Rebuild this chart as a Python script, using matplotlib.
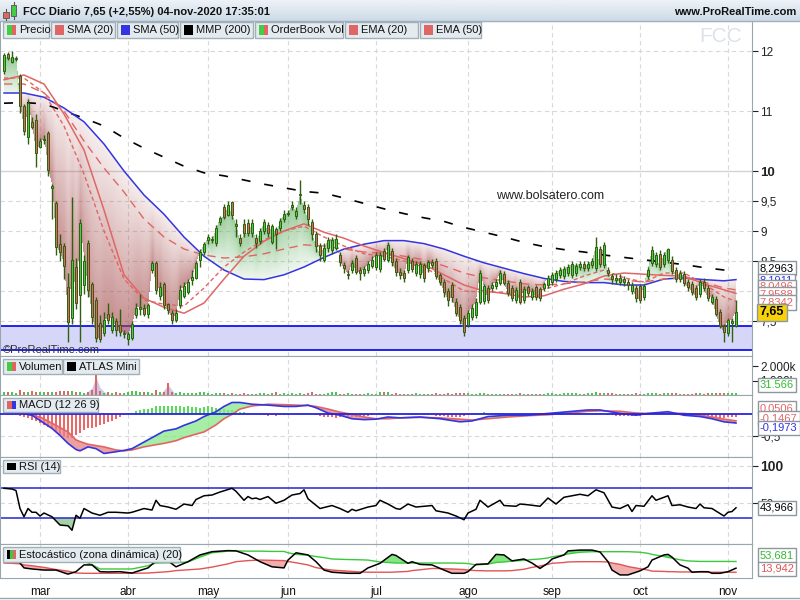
import numpy as np
import matplotlib.pyplot as plt
from matplotlib.patches import Rectangle
from matplotlib.lines import Line2D
from matplotlib.colors import LinearSegmentedColormap

plt.rcParams['font.family'] = ['Liberation Sans', 'DejaVu Sans']

W, H = 800, 600
GREEN = '#44cc44'
RED = '#e0675f'
WICK = '#2f5f10'
LINE_RED = '#e06666'
BLUE = '#3434e0'
GRID = '#d9d9d9'
FRAME = '#9aa6ae'

# ---- data (trading-day index 0 = 18-feb-2020) ----
months = ['mar', 'abr', 'may', 'jun', 'jul', 'ago', 'sep', 'oct', 'nov']
month_start = [9, 31, 51, 71, 93, 116, 137, 159, 181]

opens = [11.67, 11.95, 11.82, 11.87, 11.59, 11.09, 10.57, 10.82, 10.85, 10.40,
         10.52, 10.63, 9.72, 9.47, 8.78, 8.75, 8.07, 7.55, 8.40, 7.93,
         8.10, 8.80, 8.12, 7.85, 7.47, 7.30, 7.62, 7.35, 7.50, 7.43,
         7.28, 7.20, 7.22, 7.60, 7.70, 7.72, 7.62, 8.35, 8.47, 7.92,
         8.12, 7.78, 7.63, 7.52, 7.77, 7.92, 7.98, 8.18, 8.22, 8.52,
         8.65, 8.85, 8.85, 8.80, 9.15, 9.40, 9.27, 9.48, 9.08, 8.88,
         9.12, 9.13, 8.97, 8.88, 8.83, 9.00, 9.10, 8.82, 9.03, 9.05,
         9.20, 9.28, 9.40, 9.25, 9.60, 9.43, 9.40, 9.15, 8.95, 8.75,
         8.52, 8.72, 8.68, 8.72, 8.60, 8.43, 8.27, 8.35, 8.55, 8.35,
         8.30, 8.35, 8.42, 8.40, 8.37, 8.67, 8.52, 8.67, 8.50, 8.32,
         8.30, 8.35, 8.50, 8.30, 8.28, 8.43, 8.38, 8.48, 8.50, 8.27,
         8.15, 8.00, 8.10, 7.82, 7.73, 7.55, 7.43, 7.57, 7.60, 7.82,
         7.83, 8.05, 8.05, 8.08, 8.13, 8.28, 8.13, 8.05, 7.85, 8.15,
         7.85, 8.07, 7.90, 8.07, 8.03, 8.05, 8.10, 8.15, 8.20, 8.27,
         8.25, 8.30, 8.27, 8.30, 8.40, 8.45, 8.38, 8.43, 8.38, 8.70,
         8.43, 8.35, 8.25, 8.22, 8.15, 8.20, 8.15, 8.00, 8.05, 8.08,
         7.90, 8.25, 8.47, 8.45, 8.62, 8.45, 8.52, 8.52, 8.35, 8.20,
         8.28, 8.15, 8.12, 8.05, 7.95, 8.15, 8.05, 7.82, 7.87, 7.65,
         7.42, 7.30, 7.47, 7.42]
closes = [11.93, 11.88, 11.90, 11.88, 11.09, 10.67, 11.14, 10.73, 10.30, 10.50,
          10.54, 10.02, 9.75, 8.73, 8.65, 8.42, 7.48, 8.52, 7.80, 9.13,
          8.50, 8.02, 7.57, 7.22, 7.20, 7.52, 7.52, 7.57, 7.35, 7.32,
          7.29, 7.28, 7.45, 7.72, 7.73, 7.62, 7.77, 8.47, 8.02, 8.07,
          7.77, 7.68, 7.52, 7.63, 8.02, 8.08, 8.15, 8.23, 8.47, 8.65,
          8.78, 8.90, 8.86, 9.05, 9.22, 9.23, 9.43, 9.27, 9.11, 8.80,
          8.97, 8.97, 9.13, 8.80, 9.00, 9.15, 8.97, 9.08, 8.95, 9.17,
          9.28, 9.30, 9.43, 9.33, 9.61, 9.37, 9.20, 8.95, 8.75, 8.60,
          8.72, 8.85, 8.85, 8.87, 8.48, 8.38, 8.28, 8.47, 8.32, 8.30,
          8.37, 8.45, 8.52, 8.60, 8.60, 8.53, 8.77, 8.48, 8.32, 8.27,
          8.22, 8.57, 8.37, 8.45, 8.45, 8.22, 8.48, 8.43, 8.25, 8.15,
          7.98, 7.85, 7.90, 7.63, 7.52, 7.32, 7.63, 7.72, 7.82, 8.30,
          8.08, 7.85, 8.10, 8.15, 8.30, 8.13, 7.97, 7.88, 8.02, 7.82,
          8.03, 7.97, 8.00, 7.90, 7.88, 8.12, 8.22, 8.27, 8.30, 8.35,
          8.37, 8.40, 8.45, 8.42, 8.45, 8.38, 8.45, 8.50, 8.73, 8.45,
          8.77, 8.30, 8.20, 8.18, 8.22, 8.15, 8.10, 8.10, 7.88, 7.85,
          8.08, 8.35, 8.68, 8.60, 8.40, 8.60, 8.70, 8.33, 8.20, 8.30,
          8.13, 8.07, 7.98, 7.90, 8.15, 8.05, 7.88, 7.90, 7.62, 7.42,
          7.32, 7.52, 7.50, 7.65]
highs = [11.97, 11.98, 12.00, 11.92, 11.62, 11.12, 11.20, 10.90, 10.95, 10.55,
         10.60, 10.66, 9.78, 9.50, 8.95, 8.80, 8.30, 9.57, 8.55, 9.20,
         8.60, 8.85, 8.15, 7.90, 7.60, 7.65, 7.80, 7.65, 7.55, 7.70,
         7.35, 7.32, 7.50, 7.80, 7.95, 7.78, 7.80, 8.50, 8.50, 8.15,
         8.15, 7.80, 7.68, 7.70, 8.10, 8.15, 8.20, 8.35, 8.50, 8.70,
         8.82, 8.95, 8.92, 9.10, 9.25, 9.45, 9.50, 9.50, 9.20, 8.95,
         9.20, 9.20, 9.20, 8.95, 9.05, 9.20, 9.15, 9.12, 9.07, 9.22,
         9.35, 9.35, 9.50, 9.40, 9.85, 9.50, 9.45, 9.20, 9.00, 8.80,
         8.80, 8.90, 8.90, 8.95, 8.65, 8.48, 8.35, 8.52, 8.60, 8.40,
         8.42, 8.50, 8.58, 8.65, 8.65, 8.72, 8.82, 8.72, 8.55, 8.38,
         8.35, 8.60, 8.55, 8.50, 8.50, 8.47, 8.52, 8.53, 8.55, 8.30,
         8.20, 8.05, 8.15, 7.88, 7.78, 7.60, 7.68, 7.78, 7.88, 8.35,
         8.12, 8.10, 8.15, 8.20, 8.35, 8.33, 8.18, 8.10, 8.06, 8.20,
         8.08, 8.10, 8.05, 8.10, 8.07, 8.15, 8.27, 8.32, 8.35, 8.40,
         8.42, 8.45, 8.50, 8.47, 8.50, 8.50, 8.50, 8.55, 8.90, 8.75,
         8.82, 8.40, 8.30, 8.28, 8.28, 8.25, 8.20, 8.15, 8.10, 8.12,
         8.12, 8.40, 8.75, 8.65, 8.68, 8.65, 8.72, 8.58, 8.40, 8.35,
         8.33, 8.20, 8.17, 8.10, 8.20, 8.22, 8.10, 7.95, 7.92, 7.70,
         7.45, 7.55, 7.55, 7.85]
lows = [11.62, 11.85, 11.80, 11.84, 10.97, 10.60, 10.45, 10.70, 10.07, 10.38,
        10.45, 9.92, 9.20, 8.60, 8.50, 8.20, 7.15, 7.45, 7.70, 7.15,
        7.95, 7.90, 7.45, 7.15, 7.15, 7.25, 7.45, 7.30, 7.25, 7.25,
        7.22, 7.10, 7.18, 7.55, 7.60, 7.58, 7.55, 8.30, 7.95, 7.85,
        7.70, 7.62, 7.45, 7.48, 7.72, 7.88, 7.95, 8.10, 8.20, 8.40,
        8.60, 8.78, 8.80, 8.75, 9.10, 9.20, 9.25, 9.20, 8.90, 8.75,
        8.90, 8.92, 8.90, 8.72, 8.78, 8.95, 8.90, 8.78, 8.70, 9.00,
        9.15, 9.25, 9.35, 9.20, 9.45, 9.30, 9.10, 8.85, 8.65, 8.50,
        8.48, 8.65, 8.62, 8.68, 8.42, 8.30, 8.20, 8.30, 8.28, 8.18,
        8.25, 8.30, 8.38, 8.35, 8.32, 8.50, 8.48, 8.42, 8.25, 8.20,
        8.15, 8.30, 8.32, 8.25, 8.22, 8.15, 8.32, 8.38, 8.20, 8.10,
        7.90, 7.75, 7.82, 7.58, 7.45, 7.25, 7.40, 7.52, 7.55, 7.78,
        7.78, 7.80, 8.00, 8.03, 8.10, 8.10, 7.92, 7.83, 7.80, 7.78,
        7.80, 7.92, 7.85, 7.85, 7.83, 8.00, 8.05, 8.10, 8.15, 8.22,
        8.20, 8.25, 8.22, 8.25, 8.35, 8.33, 8.33, 8.38, 8.33, 8.40,
        8.38, 8.25, 8.12, 8.12, 8.10, 8.08, 8.02, 7.95, 7.82, 7.80,
        7.85, 8.20, 8.42, 8.40, 8.35, 8.40, 8.47, 8.28, 8.15, 8.15,
        8.08, 8.00, 7.93, 7.85, 7.90, 8.00, 7.83, 7.78, 7.58, 7.38,
        7.15, 7.25, 7.15, 7.40]
volume_k = [185, 230, 210, 160, 345, 230, 230, 250, 230, 210,
            230, 185, 230, 230, 275, 275, 250, 275, 230, 185,
            160, 210, 345, 1380, 300, 160, 185, 160, 185, 160,
            115, 230, 300, 275, 230, 230, 210, 160, 345, 230,
            210, 850, 210, 160, 185, 140, 120, 110, 150, 185,
            180, 120, 90, 110, 160, 120, 90, 115, 80, 100,
            130, 90, 100, 80, 110, 160, 90, 110, 185, 100,
            150, 90, 110, 80, 120, 100, 110, 185, 90, 80,
            70, 110, 210, 200, 90, 80, 160, 90, 70, 100,
            80, 150, 90, 100, 210, 200, 210, 90, 150, 100,
            80, 70, 90, 110, 80, 90, 70, 100, 120, 80,
            100, 110, 90, 130, 150, 160, 110, 90, 100, 170,
            120, 100, 80, 70, 90, 80, 100, 90, 70, 110,
            80, 70, 90, 80, 100, 90, 110, 120, 90, 100,
            150, 160, 140, 120, 100, 90, 150, 140, 180, 130,
            120, 115, 120, 100, 90, 80, 80, 90, 150, 100,
            90, 110, 160, 120, 100, 110, 160, 150, 130, 90,
            80, 90, 100, 110, 130, 90, 120, 130, 140, 150,
            130, 120, 140, 130]
atlas_i = [20, 22, 23, 24, 26, 39, 40, 41, 42, 43]
atlas_k = [0, 500, 1250, 500, 0, 0, 350, 700, 350, 0]

# moving averages, read every 5 sessions
ma_i = [0, 5, 10, 15, 20, 25, 30, 35, 40, 45, 50, 55, 60, 65, 70, 75, 80, 85, 90,
        95, 100, 105, 110, 115, 120, 125, 130, 135, 140, 145, 150, 155, 160, 165,
        170, 175, 180, 183]
sma20 = [11.52, 11.60, 11.45, 10.95, 10.35, 9.35, 8.27, 7.88, 7.73, 7.63,
         7.80, 8.20, 8.58, 8.83, 9.00, 9.12, 8.98, 8.88, 8.75, 8.64,
         8.54, 8.44, 8.27, 8.10, 8.00, 7.96, 7.90, 7.92, 8.03, 8.12,
         8.25, 8.30, 8.28, 8.26, 8.25, 8.12, 8.02, 7.96]
sma50 = [11.30, 11.30, 11.23, 11.05, 10.82, 10.45, 10.00, 9.60, 9.28, 8.90,
         8.58, 8.35, 8.20, 8.19, 8.27, 8.40, 8.56, 8.70, 8.78, 8.84,
         8.84, 8.79, 8.70, 8.58, 8.47, 8.38, 8.29, 8.21, 8.16, 8.14,
         8.14, 8.10, 8.10, 8.20, 8.22, 8.19, 8.17, 8.19]
mmp200 = [11.13, 11.14, 11.12, 11.00, 10.88, 10.75, 10.55, 10.38, 10.23, 10.08,
          9.97, 9.92, 9.85, 9.78, 9.72, 9.66, 9.63, 9.55, 9.46, 9.37,
          9.29, 9.22, 9.16, 9.06, 8.98, 8.90, 8.81, 8.74, 8.69, 8.65,
          8.60, 8.56, 8.52, 8.48, 8.44, 8.39, 8.35, 8.33]
ema20 = [11.55, 11.55, 11.30, 10.75, 9.95, 9.00, 8.20, 7.85, 7.78, 7.75,
         8.05, 8.40, 8.65, 8.85, 9.00, 9.08, 8.90, 8.75, 8.62, 8.58,
         8.50, 8.40, 8.20, 8.00, 7.98, 7.98, 7.98, 8.03, 8.12, 8.25,
         8.35, 8.22, 8.15, 8.30, 8.30, 8.12, 7.90, 7.83]
ema50 = [11.45, 11.45, 11.30, 11.00, 10.50, 10.05, 9.65, 9.20, 8.90, 8.70,
         8.60, 8.55, 8.57, 8.62, 8.70, 8.77, 8.75, 8.70, 8.65, 8.63,
         8.58, 8.52, 8.42, 8.30, 8.22, 8.17, 8.12, 8.10, 8.12, 8.15,
         8.20, 8.18, 8.15, 8.20, 8.22, 8.15, 8.05, 8.02]
support_top, support_bottom = 7.42, 7.02

macd_i = [0, 4, 7, 9, 12, 14, 16, 18, 19, 21, 23, 25, 28, 30, 32, 35, 38, 40, 43, 45,
          48, 50, 53, 55, 57, 59, 62, 66, 70, 73, 76, 78, 81, 84, 87, 90, 93, 96, 99,
          104, 109, 114, 117, 121, 126, 131, 136, 141, 146, 149, 154, 158, 161, 166,
          170, 174, 177, 180, 183]
macd_line = [0.03, 0.03, -0.02, -0.14, -0.32, -0.48, -0.66, -0.80, -0.83, -0.74,
             -0.78, -0.89, -0.85, -0.82, -0.78, -0.63, -0.48, -0.38, -0.33, -0.25,
             -0.15, -0.05, 0.06, 0.18, 0.27, 0.27, 0.23, 0.21, 0.18, 0.18,
             0.21, 0.15, 0.03, -0.02, -0.10, -0.12, -0.11, -0.06, -0.08, -0.06,
             -0.10, -0.17, -0.15, -0.05, -0.02, -0.02, 0.02, 0.06, 0.10, 0.10,
             0.02, -0.02, 0.02, 0.06, -0.02, -0.05, -0.10, -0.17, -0.197]
macd_signal = [0.05, 0.05, -0.02, -0.06, -0.20, -0.30, -0.40, -0.58, -0.62, -0.68,
               -0.71, -0.74, -0.81, -0.83, -0.81, -0.74, -0.69, -0.66, -0.60, -0.53,
               -0.45, -0.40, -0.24, -0.10, 0.00, 0.12, 0.19, 0.23, 0.22, 0.21,
               0.20, 0.18, 0.12, 0.05, 0.00, -0.06, -0.10, -0.10, -0.08, -0.07,
               -0.08, -0.11, -0.13, -0.10, -0.06, -0.03, -0.01, 0.03, 0.07, 0.08,
               0.07, 0.03, 0.02, 0.03, 0.02, -0.02, -0.06, -0.11, -0.147]
macd_hist = [0.0, -0.01, -0.01, -0.02, -0.04, -0.06, -0.09, -0.12, -0.16, -0.2,
             -0.25, -0.29, -0.34, -0.39, -0.44, -0.5, -0.54, -0.54, -0.48, -0.42,
             -0.36, -0.32, -0.31, -0.28, -0.24, -0.21, -0.18, -0.14, -0.1, -0.06,
             -0.02, 0.02, 0.04, 0.07, 0.1, 0.12, 0.13, 0.15, 0.18, 0.2,
             0.2, 0.2, 0.19, 0.18, 0.18, 0.17, 0.18, 0.17, 0.16, 0.15,
             0.17, 0.18, 0.17, 0.15, 0.13, 0.12, 0.11, 0.1, 0.08, 0.06,
             0.05, 0.03, 0.01, 0.0, -0.01, -0.02, -0.03, -0.02, -0.03, -0.02,
             -0.01, -0.02, 0.0, 0.01, 0.02, 0.02, 0.01, 0.0, -0.02, -0.04,
             -0.05, -0.06, -0.07, -0.08, -0.07, -0.07, -0.06, -0.06, -0.05, -0.05,
             -0.04, -0.03, -0.02, 0.0, 0.02, 0.03, 0.04, 0.04, 0.02, 0.0,
             0.01, 0.0, -0.01, -0.01, 0.0, -0.01, -0.02, -0.02, -0.03, -0.03,
             -0.04, -0.05, -0.05, -0.06, -0.05, -0.03, -0.01, 0.01, 0.03, 0.04,
             0.05, 0.04, 0.04, 0.03, 0.03, 0.02, 0.01, 0.0, 0.01, 0.0,
             0.01, 0.01, 0.0, 0.01, 0.02, 0.02, 0.03, 0.03, 0.04, 0.03,
             0.04, 0.04, 0.03, 0.04, 0.04, 0.03, 0.04, 0.03, 0.02, 0.02,
             0.01, -0.01, -0.02, -0.03, -0.04, -0.04, -0.04, -0.04, -0.03, -0.03,
             -0.02, -0.01, 0.01, 0.02, 0.02, 0.03, 0.02, 0.01, -0.01, -0.02,
             -0.03, -0.03, -0.04, -0.04, -0.05, -0.05, -0.06, -0.07, -0.07, -0.08,
             -0.08, -0.07, -0.06, -0.05]

rsi_i = [0, 2, 3, 4, 5, 6, 7, 8, 9, 10, 12, 14, 16, 17, 18, 19, 20, 22, 24, 26,
         28, 31, 32, 35, 37, 38, 39, 41, 43, 45, 47, 48, 50, 52, 54, 57, 58, 60, 61, 62,
         63, 64, 66, 68, 70, 72, 74, 75, 76, 79, 82, 84, 86, 87, 88, 91, 93, 94, 96, 98,
         99, 101, 103, 105, 107, 108, 111, 113, 115, 116, 118, 119, 121, 122, 124, 125,
         128, 129, 131, 134, 136, 138, 140, 142, 144, 146, 148, 150, 152, 154, 156, 157,
         158, 160, 162, 163, 166, 167, 169, 171, 173, 174, 175, 177, 180, 181, 182, 183]
rsi = [70, 69, 67, 43, 32, 43, 38, 38, 33, 37, 32, 21, 20, 14, 34, 30, 43, 37, 34, 38,
       38, 37, 38, 43, 41, 54, 47, 45, 42, 49, 47, 55, 60, 61, 65, 70, 66, 54, 59, 56,
       57, 55, 59, 50, 54, 61, 63, 68, 56, 43, 47, 43, 38, 42, 40, 45, 47, 54, 49, 43,
       42, 49, 45, 46, 47, 40, 37, 33, 28, 37, 42, 54, 45, 48, 54, 47,
       46, 49, 48, 46, 57, 49, 58, 60, 62, 60, 68, 64, 45, 43, 48, 39,
       47, 46, 60, 54, 60, 47, 48, 45, 43, 49, 44, 43, 33, 38, 39, 43.966]

st_i = [0, 2, 4, 5, 7, 10, 13, 16, 18, 20, 22, 24, 26, 29, 32, 36, 38, 41, 43, 46,
        49, 52, 56, 58, 61, 64, 67, 70, 71, 73, 76, 78, 80, 82, 86, 89, 91, 94, 97, 98,
        101, 102, 104, 107, 110, 112, 115, 116, 118, 121, 123, 125, 127, 130, 132, 134,
        136, 137, 140, 141, 144, 147, 149, 151, 152, 154, 156, 159, 161, 162, 165, 166,
        167, 169, 171, 172, 174, 176, 177, 179, 181, 183]
st_k = [90, 80, 48, 30, 26, 22, 22, 7, 16, 41, 41, 16, 15, 16, 11, 30, 56, 56, 34, 53,
        78, 90, 94, 93, 78, 53, 34, 30, 59, 86, 78, 53, 22, 14, 10, 10, 30, 47, 80, 76,
        47, 53, 43, 41, 22, 10, 10, 16, 43, 45, 80, 78, 56, 63, 48, 28,
        48, 63, 78, 93, 96, 96, 89, 53, 22, 4, 4, 19, 34, 59, 78, 80,
        70, 41, 29, 14, 16, 16, 10, 10, 16, 29]
st_up = [75, 74, 73, 72, 71, 69, 66, 63, 58, 54, 42, 26, 26, 26, 26, 38, 48, 49, 49, 52,
         70, 86, 92, 93, 92, 92, 91, 91, 86, 80, 77, 72, 68, 63, 61, 60, 59, 52, 49, 48,
         48, 48, 48, 48, 48, 48, 47, 46, 41, 44, 50, 52, 55, 58, 61, 63,
         67, 71, 78, 82, 88, 90, 90, 90, 90, 90, 90, 88, 84, 80, 72, 69,
         66, 60, 56, 55, 54, 54, 54, 54, 54, 53.7]
st_dn = [48, 47, 45, 41, 38, 32, 24, 18, 11, 10, 10, 10, 10, 10, 10, 11, 13, 16, 20, 23,
         26, 33, 45, 53, 57, 59, 58, 57, 54, 49, 41, 31, 26, 22, 18, 15, 14, 14, 14, 15,
         17, 20, 23, 28, 27, 26, 24, 22, 20, 19, 19, 19, 20, 25, 32, 37,
         43, 47, 50, 52, 53, 53, 53, 52, 48, 43, 35, 27, 22, 18, 17, 16,
         16, 15, 15, 15, 15, 14, 14, 14, 14, 13.9]

fig = plt.figure(figsize=(8, 6), dpi=100)
fig.patch.set_facecolor('white')


def panel(top, bottom):
    ax = fig.add_axes([0, 1 - bottom / H, 752 / W, (bottom - top) / H])
    ax.set_xlim(-1, 187)
    for s in ax.spines.values():
        s.set_color(FRAME)
    ax.yaxis.tick_right()
    ax.tick_params(axis='y', direction='out', length=4, width=0.8, colors='#222222',
                   labelsize=8.5, pad=2)
    ax.set_xticks(month_start)
    ax.tick_params(axis='x', length=0, labelbottom=False)
    for m in month_start:
        ax.axvline(m, color=GRID, lw=0.8, ls=(0, (4, 3)), zorder=0)
    return ax


def value_box(ax, y, text, color, face='white', weight='normal', size=8, z=10):
    ax.text(1.0105, y, text, transform=ax.get_yaxis_transform(), ha='left', va='center',
            color=color, fontsize=size, fontweight=weight, clip_on=False, zorder=z,
            bbox=dict(boxstyle='square,pad=0.2', fc=face, ec='#8c989f', lw=1))


def legend_box(x0, x1, y0, y1, label, colors):
    fig.patches.append(Rectangle((x0 / W, 1 - y1 / H), (x1 - x0) / W, (y1 - y0) / H,
                                 transform=fig.transFigure, fc='#e4ebf0', ec='#a3afb7',
                                 lw=1, zorder=20))
    iw = 9.0
    for k, col in enumerate(colors):
        fig.patches.append(Rectangle(((x0 + 4 + k * iw / len(colors)) / W, 1 - (y1 - 3) / H),
                                     iw / len(colors) / W, (y1 - y0 - 6) / H,
                                     transform=fig.transFigure, fc=col, ec='none', zorder=21))
    fig.text((x0 + 16) / W, 1 - (y0 + y1) / 2 / H, label, fontsize=8, va='center',
             ha='left', color='#111111', zorder=22)


idx = np.arange(len(closes))
o, h, l, c = map(np.array, (opens, highs, lows, closes))
up = c >= o

# ---- price panel ----
YLO, YHI = 6.917, 12.5
ax = panel(21, 356)
ax.set_yticks([7.5, 8.5, 9, 9.5, 10, 11, 12])
ax.set_yticklabels(['7,5', '8,5', '9', '9,5', '10', '11', '12'])
ax.get_yticklabels()[4].set_fontweight('bold')
ax.get_yticklabels()[4].set_fontsize(9.5)
for lv in [7.5, 8, 8.5, 9, 9.5, 11, 12]:
    ax.axhline(lv, color=GRID, lw=0.8, ls=(0, (4, 3)), zorder=0)
ax.axhline(10, color='#d4d4d4', lw=1, zorder=0)

ax.axhspan(support_bottom, support_top, color='#d6d6f8', zorder=1, lw=0)
ax.axhline(support_top, color='#0000ee', lw=1.2, zorder=2)
ax.axhline(support_bottom, color='#0000ee', lw=1.2, zorder=2)

# cloud between price and SMA(50): shaded darker towards the price
xf = np.linspace(-1, 187, 752)
pf = np.linspace(YLO, YHI, 335)
cf = np.interp(xf, idx, c)
sf = np.interp(xf, ma_i, sma50)
CC, PP = np.meshgrid(cf, pf)
SS = np.meshgrid(sf, pf)[0]
frac = (PP - SS) / np.where(np.abs(CC - SS) < 1e-9, 1e-9, CC - SS)
inside = (frac >= 0) & (frac <= 1) & ((xf >= 0) & (xf <= idx[-1]))[None, :]
rgba = np.zeros(PP.shape + (4,))
rgba[..., :3] = np.where((CC < SS)[..., None], [0.64, 0.29, 0.29], [0.37, 0.68, 0.37])
rgba[..., 3] = np.where(inside, 0.1 + 0.52 * np.clip(frac, 0, 1), 0)
ax.imshow(rgba, extent=[-1, 187, YLO, YHI], origin='lower', aspect='auto', zorder=2,
          interpolation='bilinear')

ax.plot(ma_i, mmp200, color='black', lw=1.2, ls=(0, (5.4, 8.4)), zorder=3)
ax.plot(ma_i, sma50, color=BLUE, lw=1.1, zorder=3)
ax.plot(ma_i, ema50, color=LINE_RED, lw=1, ls=(0, (6, 4)), zorder=3)
ax.plot(ma_i, ema20, color=LINE_RED, lw=1, ls=(0, (3, 2)), zorder=3)
ax.plot(ma_i, sma20, color=LINE_RED, lw=1.1, zorder=3)

ax.vlines(idx, l, h, color=WICK, lw=1, zorder=4)
ax.bar(idx, np.maximum(np.abs(c - o), 0.015), bottom=np.minimum(o, c), width=0.72,
       color=np.where(up, GREEN, RED), edgecolor=WICK, linewidth=0.7, zorder=5)
ax.set_xlim(-1, 187)
ax.set_ylim(YLO, YHI)

ax.text(136.5, 9.58, 'www.bolsatero.com', ha='center', va='center', fontsize=9,
        color='#222222', zorder=6)
ax.text(0.004, 0.004, '\u00a9ProRealTime.com', transform=ax.transAxes, va='bottom',
        ha='left', fontsize=8, color='#333333', zorder=6)
ax.text(0.9588, 0.955, 'FCC', transform=ax.transAxes, ha='center', va='center',
        fontsize=15, color='#dde2ea', zorder=0)

price_boxes = [(8.383, '8,2963', 'black'), (8.167, '8,1911', BLUE),
               (8.067, '8,0496', LINE_RED), (7.95, '7,9588', LINE_RED),
               (7.81, '7,8342', LINE_RED)]
for k, (yv, txt, col) in enumerate(price_boxes):
    value_box(ax, yv, txt, col, z=10 + k)
value_box(ax, 7.642, '7,65', 'black', face='#f6d10a', weight='bold', size=9, z=20)

# ---- volume panel ----
av = panel(356, 395)
av.set_ylim(0, 2690)
av.fill_between(atlas_i, 0, atlas_k, color='#c9c9ee', lw=0, zorder=1)
av.bar(idx, volume_k, width=0.6, color=np.where(up, GREEN, RED), zorder=2)
av.set_yticks([1000, 2000])
av.set_yticklabels(['1.000k', '2.000k'])
value_box(av, 700, '31.566', '#33bb33')

# ---- MACD panel ----
am = panel(395, 457)
am.set_ylim(-0.97, 0.44)
am.axhline(-0.5, color=GRID, lw=0.8, ls=(0, (4, 3)), zorder=0)
hist = np.array(macd_hist)
am.bar(idx, hist, width=0.55, color=np.where(hist >= 0, '#55dd55', '#ee6666'), zorder=2)
ml, sg = np.array(macd_line), np.array(macd_signal)
am.fill_between(macd_i, ml, sg, where=ml >= sg, interpolate=True, color='#88e888',
                alpha=0.75, lw=0, zorder=3)
am.fill_between(macd_i, ml, sg, where=ml < sg, interpolate=True, color='#e88080',
                alpha=0.75, lw=0, zorder=3)
am.plot(macd_i, sg, color=LINE_RED, lw=1.2, zorder=4)
am.plot(macd_i, ml, color=BLUE, lw=1.2, zorder=4)
am.axhline(0, color='#2525dd', lw=1.3, zorder=4)
am.set_yticks([-0.5])
am.set_yticklabels(['-0,5'])
value_box(am, 0.143, '0,0506', LINE_RED, z=10)
value_box(am, -0.084, '-0,1467', LINE_RED, z=11)
value_box(am, -0.31, '-0,1973', BLUE, z=12)

# ---- RSI panel ----
ar = panel(457, 544)
ar.set_ylim(-4.3, 111.7)
for lv in [50, 100]:
    ar.axhline(lv, color=GRID, lw=0.8, ls=(0, (4, 3)), zorder=0)
ar.axhline(70, color='#2525cc', lw=1.1, zorder=2)
ar.axhline(30, color='#2525cc', lw=1.1, zorder=2)
rv = np.array(rsi)
ar.fill_between(rsi_i, rv, 30, where=rv < 30, interpolate=True, color='#7fbf7f',
                alpha=0.7, lw=0, zorder=1)
ar.plot(rsi_i, rv, color='black', lw=1.1, zorder=3)
ar.set_yticks([50, 100])
ar.set_yticklabels(['50', '100'])
ar.get_yticklabels()[1].set_fontweight('bold')
ar.get_yticklabels()[1].set_fontsize(10)
value_box(ar, 43.966, '43,966', 'black')

# ---- stochastic panel ----
ast = panel(544, 578)
ast.set_ylim(-7.4, 118.5)
k_, u_, d_ = np.array(st_k), np.array(st_up), np.array(st_dn)
ast.fill_between(st_i, k_, u_, where=k_ > u_, interpolate=True, color='#4edc4e',
                 alpha=0.7, lw=0, zorder=1)
ast.fill_between(st_i, k_, d_, where=k_ < d_, interpolate=True, color='#ec8c8c',
                 alpha=0.7, lw=0, zorder=1)
ast.plot(st_i, u_, color='#3cc83c', lw=1, zorder=2)
ast.plot(st_i, d_, color='#e05555', lw=1, zorder=2)
ast.plot(st_i, k_, color='black', lw=1.1, zorder=3)
ast.set_yticks([])
ast.set_xticklabels(months)
ast.tick_params(axis='x', labelbottom=True, pad=6, labelsize=8.5, colors='#111111')
value_box(ast, 76, '53,681', '#33bb33', z=10)
value_box(ast, 26, '13,942', '#e05555', z=11)

# ---- header ----
hdr = fig.add_axes([0, 1 - 21 / H, 1, 21 / H])
hdr.imshow(np.linspace(0, 1, 20)[:, None], aspect='auto', extent=[0, 1, 0, 1],
           cmap=LinearSegmentedColormap.from_list('hdr', ['#edf2f7', '#cddbe7']))
hdr.axis('off')
fig.lines.append(Line2D([0, 1], [1 - 21 / H, 1 - 21 / H], transform=fig.transFigure,
                        color='#9fb0bf', lw=1))
fig.lines.append(Line2D([0, 1], [1 - 598 / H, 1 - 598 / H], transform=fig.transFigure,
                        color=FRAME, lw=1))
# small candle icon
fig.lines.append(Line2D([6 / W, 6 / W], [1 - 20 / H, 1 - 9 / H], transform=fig.transFigure,
                        color='#555555', lw=0.8, zorder=20))
fig.lines.append(Line2D([13.5 / W, 13.5 / W], [1 - 19 / H, 1 - 2 / H],
                        transform=fig.transFigure, color='#555555', lw=0.8, zorder=20))
fig.patches.append(Rectangle((3 / W, 1 - 18 / H), 6 / W, 6 / H, transform=fig.transFigure,
                             fc=RED, ec='#555555', lw=0.6, zorder=21))
fig.patches.append(Rectangle((11 / W, 1 - 16 / H), 5 / W, 11 / H, transform=fig.transFigure,
                             fc=GREEN, ec='#555555', lw=0.6, zorder=21))
fig.text(23 / W, 1 - 12 / H, 'FCC Diario 7,65 (+2,55%) 04-nov-2020 17:35:01',
         fontsize=8, fontweight='bold', va='center', ha='left', color='#111111')
fig.text(796 / W, 1 - 12 / H, 'www.ProRealTime.com', fontsize=8, fontweight='bold',
         va='center', ha='right', color='#111111')

# legends
legend_box(3, 49, 22, 38, 'Precio', [GREEN, RED])
legend_box(51, 115, 22, 38, 'SMA (20)', [LINE_RED])
legend_box(117, 178, 22, 38, 'SMA (50)', [BLUE])
legend_box(180, 253, 22, 38, 'MMP (200)', ['black'])
legend_box(255, 343, 22, 38, 'OrderBook Vol', [GREEN, RED])
legend_box(345, 418, 22, 38, 'EMA (20)', [LINE_RED])
legend_box(420, 481, 22, 38, 'EMA (50)', [LINE_RED])
legend_box(3, 62, 359, 374, 'Volumen', [GREEN, RED])
legend_box(63, 139, 359, 374, 'ATLAS Mini', ['black'])
legend_box(3, 98, 398, 412, 'MACD (12 26 9)', [LINE_RED, BLUE])
legend_box(3, 60, 460, 473, 'RSI (14)', ['black'])
legend_box(3, 180, 547, 562, 'Estocástico (zona dinámica) (20)', ['black', '#3cc83c', LINE_RED])

fig.savefig('out.png', dpi=100)
